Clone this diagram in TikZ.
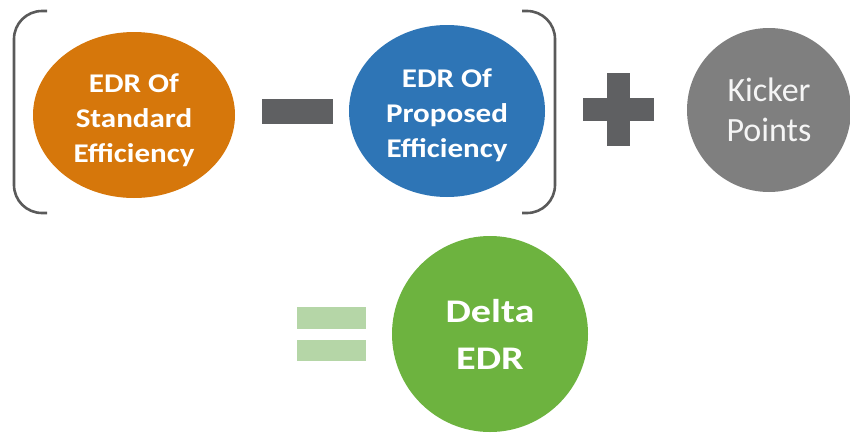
\documentclass[tikz,border=0pt]{standalone}
\usepackage{fontspec}
\setmainfont{Carlito}
\newfontfamily\wideBold[FakeStretch=1.15]{Carlito}
\newfontfamily\widerBold[FakeStretch=1.22]{Carlito}
\usepackage{tikz}
\usetikzlibrary{shapes.geometric}

\definecolor{edrOrange}{RGB}{214,119,11}
\definecolor{edrBlue}{RGB}{46,117,182}
\definecolor{kickGray}{RGB}{127,127,127}
\definecolor{deltaGreen}{RGB}{109,179,63}
\definecolor{signGray}{RGB}{95,96,98}
\definecolor{eqGreen}{RGB}{181,214,167}
\definecolor{brackGray}{RGB}{90,90,90}

\begin{document}
\begin{tikzpicture}[x=1pt, y=-1pt]
\tikzstyle{edr} = [ellipse, inner sep=0pt, text=white, align=center, font=\wideBold\bfseries\fontsize{27}{35}\selectfont]
\tikzstyle{kicker} = [circle, inner sep=0pt, minimum size=164pt, fill=kickGray, text=white!92!gray, align=center, font=\fontsize{34}{40}\selectfont]
\tikzstyle{delta} = [circle, inner sep=0pt, minimum size=196pt, fill=deltaGreen, text=white, align=center, font=\widerBold\bfseries\fontsize{33}{47}\selectfont]
\tikzstyle{bar} = [rectangle, inner sep=0pt, fill=signGray]
\tikzstyle{eqbar} = [rectangle, inner sep=0pt, fill=eqGreen, minimum width=69pt]
\tikzstyle{bracket} = [draw=brackGray, line width=2.6pt, rounded corners=28pt]

\useasboundingbox (0,0) rectangle (850,434);

\node (stdEff) [edr, fill=edrOrange, minimum width=202pt, minimum height=166pt] at (134,115) {\raisebox{-5pt}[\height][\depth]{\parbox{128pt}{\centering EDR Of\\Standard\\Efficiency}}};
\node (propEff) [edr, fill=edrBlue, minimum width=196pt, minimum height=172pt] at (447,111) {\raisebox{-4pt}[\height][\depth]{\parbox{128pt}{\centering EDR Of\\Proposed\\Efficiency}}};
\node (kickerPts) [kicker] at (769,110) {Kicker\\Points};
\node (deltaEdr) [delta] at (490,334) {Delta\\EDR};

\node (minusSign) [bar, minimum width=71pt, minimum height=25pt] at (297.5,111.5) {};
\node (plusH) [bar, minimum width=71pt, minimum height=23pt] at (618.5,109.5) {};
\node (plusV) [bar, minimum width=23pt, minimum height=73pt] at (618.5,109.5) {};
\node (equalTop) [eqbar, minimum height=22pt] at (331.5,318) {};
\node (equalBot) [eqbar, minimum height=21pt] at (331.5,350.5) {};

\draw [bracket] (47,11) -- (14,11) -- (14,213) -- (47,213);
\draw [bracket] (522,11) -- (555,11) -- (555,213) -- (522,213);

\end{tikzpicture}
\end{document}
